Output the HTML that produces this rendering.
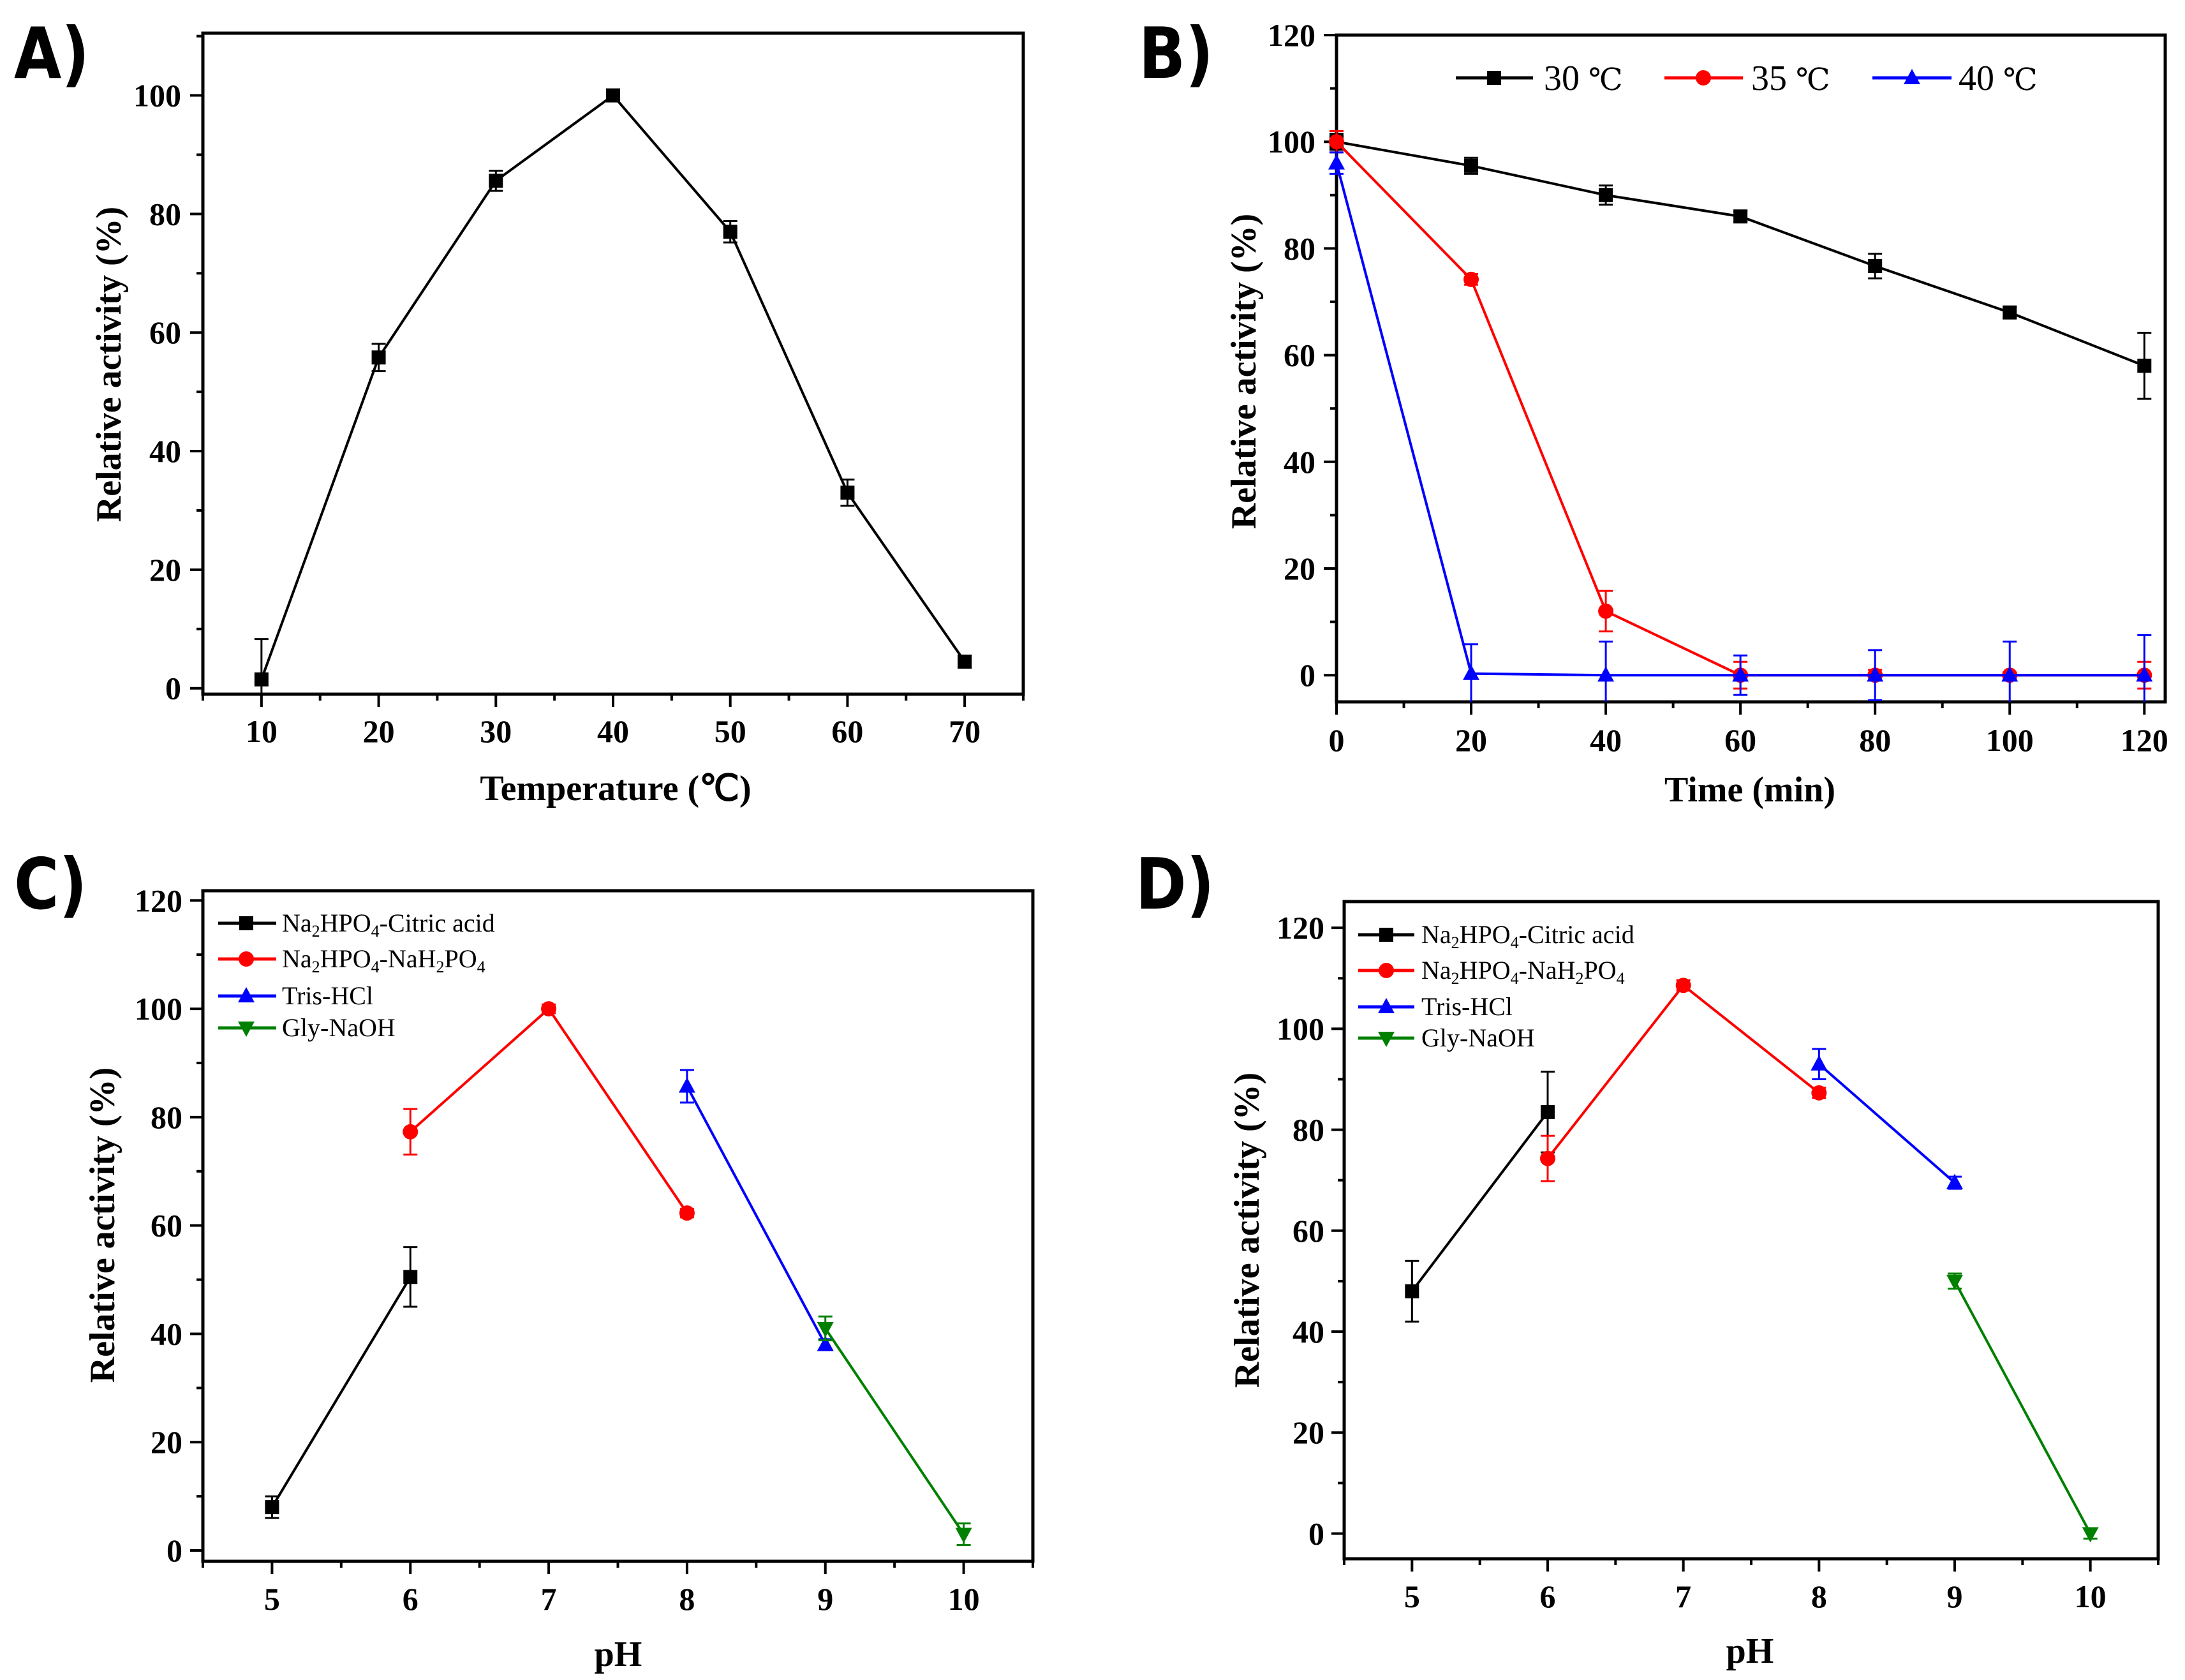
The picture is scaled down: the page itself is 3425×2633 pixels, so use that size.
<!DOCTYPE html>
<html><head><meta charset="utf-8">
<style>
html,body{margin:0;padding:0;background:#fff;}
svg{display:block;}
.tick{font-family:"Liberation Serif",serif;font-weight:bold;font-size:50px;}
.title{font-family:"Liberation Serif",serif;font-weight:bold;font-size:56px;}
.leg{font-family:"Liberation Serif",serif;font-size:40px;}
.legB{font-family:"Liberation Serif",serif;font-size:56px;}
.letter{font-family:"DejaVu Sans","Liberation Sans",sans-serif;font-weight:bold;font-size:96px;}
</style></head>
<body>
<svg id="fig" xmlns="http://www.w3.org/2000/svg" width="3425" height="2633" viewBox="0 0 3425 2633">
<rect width="3425" height="2633" fill="#fff"/>
</svg>
<script>
// Panel A: temperature optimum
const tempA = [10,20,30,40,50,60,70];
const actA = [1.5,55.8,85.6,100,77,33,4.5];
const errA = [6.8,2.3,1.7,1,1.8,2.2,1];
// Panel B: thermostability
const timeB = [0,20,40,60,80,100,120];
const actB30 = [100,95.5,90,86,76.7,68,58];
const errB30 = [1.5,1.5,1.8,1,2.3,1,6.2];
const actB35 = [100,74.2,12,0,0,0,0];
const errB35 = [2,1,3.8,2.5,1,0.5,2.5];
const actB40 = [96,0.3,0,0,0,0,0];
const errB40 = [2,5.5,6.3,3.7,4.7,6.3,7.5];
// Panel C: pH optimum
const phC1 = [5,6], actC1 = [8,50.5], errC1 = [2,5.5];
const phC2 = [6,7,8], actC2 = [77.3,100,62.3], errC2 = [4.2,0.8,0.8];
const phC3 = [8,9], actC3 = [85.7,38], errC3 = [3,1];
const phC4 = [9,10], actC4 = [41,3], errC4 = [2.2,2];
// Panel D: pH stability
const phD1 = [5,6], actD1 = [48,83.5], errD1 = [6,8];
const phD2 = [6,7,8], actD2 = [74.3,108.6,87.3], errD2 = [4.5,1,1];
const phD3 = [8,9], actD3 = [93,69.5], errD3 = [3,1.2];
const phD4 = [9,10], actD4 = [50,0], errD4 = [1.5,1];
const ticksA_x = [10,20,30,40,50,60,70], ticksA_y = [0,20,40,60,80,100];
const ticksB_x = [0,20,40,60,80,100,120], ticksB_y = [0,20,40,60,80,100,120];
const ticksC_x = [5,6,7,8,9,10], ticksC_y = [0,20,40,60,80,100,120];
const legendC = ["Na<tspan dy='8' font-size='26'>2</tspan><tspan dy='-8'>HPO</tspan><tspan dy='8' font-size='26'>4</tspan><tspan dy='-8'>-Citric acid</tspan>",
 "Na<tspan dy='8' font-size='26'>2</tspan><tspan dy='-8'>HPO</tspan><tspan dy='8' font-size='26'>4</tspan><tspan dy='-8'>-NaH</tspan><tspan dy='8' font-size='26'>2</tspan><tspan dy='-8'>PO</tspan><tspan dy='8' font-size='26'>4</tspan>",
 "Tris-HCl","Gly-NaOH"];
const legendB = ["30 <tspan font-family='DejaVu Serif,Liberation Serif,serif' font-size='48'>℃</tspan>","35 <tspan font-family='DejaVu Serif,Liberation Serif,serif' font-size='48'>℃</tspan>","40 <tspan font-family='DejaVu Serif,Liberation Serif,serif' font-size='48'>℃</tspan>"];

const NS="http://www.w3.org/2000/svg";
const svg=document.getElementById('fig');
function mk(tag,attrs,parent){const e=document.createElementNS(NS,tag);for(const k in attrs)e.setAttribute(k,attrs[k]);(parent||svg).appendChild(e);return e;}

function makeAxes(p){
  const g=mk('g',{});
  
  
  p.g=g;
  p.sx=v=>p.L+(v-p.xmin)/(p.xmax-p.xmin)*(p.R-p.L);
  p.sy=v=>p.B-(v-p.ymin)/(p.ymax-p.ymin)*(p.B-p.T);
  const fr=mk('rect',{x:p.L,y:p.T,width:p.R-p.L,height:p.B-p.T,fill:'none',stroke:'#000','stroke-width':5},g);
  
  
  for(let v=p.ymin;v<=p.ymax+1e-9;v+=1){
    if(Math.abs(v%10)>1e-9) continue;
    const major=Math.abs(v%20)<1e-9 && v<=p.ymajMax;
    const y=p.sy(v);
    mk('line',{x1:p.L,x2:p.L-(major?20:10),y1:y,y2:y,stroke:'#000','stroke-width':4},g);
  }
  p.yt.forEach(v=>{
    const t=mk('text',{x:p.ylabX,y:p.sy(v)+17,'text-anchor':'end',class:'tick'},g);
    t.textContent=v;
    
    
  });
  for(let v=p.xminor0;v<=p.xmax+1e-9;v+=p.xminorStep){
    const major=p.xt.some(t=>Math.abs(t-v)<1e-9);
    const x=p.sx(v);
    mk('line',{x1:x,x2:x,y1:p.B,y2:p.B+(major?20:10),stroke:'#000','stroke-width':4},g);
  }
  p.xt.forEach(v=>{
    const t=mk('text',{x:p.sx(v),y:p.xlabY+17,'text-anchor':'middle',class:'tick'},g);
    t.textContent=v;
    
    
  });
  const xt=mk('text',{x:p.xtitle[0],y:p.xtitle[1]+20,'text-anchor':'middle',class:'title'},g);
  xt.textContent=p.xlabel;
  
  
  const yt=mk('text',{x:0,y:0,'text-anchor':'middle',class:'title',transform:`translate(${p.ytitle[0]+20},${p.ytitle[1]}) rotate(-90)`},g);
  yt.textContent='Relative activity (%)';
  
  
  const lt=mk('text',{x:p.letter[0],y:p.letter[1],class:'letter',transform:`translate(${p.letter[0]},${p.letter[1]}) scale(1,1.15) translate(${-p.letter[0]},${-p.letter[1]})`},g);
  lt.textContent=p.letterText;
  
  
  return p;
}
function marker(g,shape,x,y,color){
  let m;
  if(shape==='sq') m=mk('rect',{x:x-11,y:y-11,width:22,height:22,fill:color},g);
  else if(shape==='ci') m=mk('circle',{cx:x,cy:y,r:12,fill:color},g);
  else if(shape==='up') m=mk('polygon',{points:`${x},${y-14} ${x+13},${y+10} ${x-13},${y+10}`,fill:color},g);
  else m=mk('polygon',{points:`${x},${y+14} ${x+13},${y-10} ${x-13},${y-10}`,fill:color},g);
  return m;
}
function series(p,xs,ys,es,color,shape,name){
  const g=mk('g',{},p.g);
  
  
  const pts=xs.map((x,i)=>p.sx(x)+','+p.sy(ys[i])).join(' ');
  const pl=mk('polyline',{points:pts,fill:'none',stroke:color,'stroke-width':4},g);
  
  
  xs.forEach((x,i)=>{
    const cx=p.sx(x),y1=p.sy(ys[i]+es[i]),y2=Math.min(p.sy(ys[i]-es[i]),p.B);
    mk('line',{x1:cx,x2:cx,y1:y1,y2:y2,stroke:color,'stroke-width':3},g);
    mk('line',{x1:cx-11,x2:cx+11,y1:y1,y2:y1,stroke:color,'stroke-width':3},g);
    if(p.sy(ys[i]-es[i])<p.B) mk('line',{x1:cx-11,x2:cx+11,y1:y2,y2:y2,stroke:color,'stroke-width':3},g);
    const m=marker(g,shape,cx,p.sy(ys[i]),color);
    
    
  });
}
function legend(p,items,x0,x1,xm,xt,ys,cls){
  items.forEach((it,i)=>{
    const g=mk('g',{},p.g);
    
    
    const y=ys[i];
    mk('line',{x1:x0[i],x2:x1[i],y1:y,y2:y,stroke:it.c,'stroke-width':5},g);
    marker(g,it.s,xm[i],y,it.c);
    const t=mk('text',{x:xt[i],y:y+(cls==='legB'?19:13),class:cls},g);
    t.innerHTML=it.t;
  });
}

// Panel A
const A=makeAxes({name:'panel-a-temperature',L:318,R:1604,T:52,B:1088,xmin:5,xmax:75,ymin:-1,ymax:110.5,ymajMax:100,
  xt:ticksA_x,yt:ticksA_y,xminor0:5,xminorStep:5,ylabX:284,xlabY:1146,xtitle:[965,1234],ytitle:[169,571],
  xlabel:'Temperature (℃)',letter:[22,122],letterText:'A)'});
series(A,tempA,actA,errA,'#000','sq','series-temperature');

// Panel B
const Bp=makeAxes({name:'panel-b-thermostability',L:2095,R:3394,T:55,B:1100,xmin:0,xmax:123.1,ymin:-5,ymax:120,ymajMax:120,
  xt:ticksB_x,yt:ticksB_y,xminor0:0,xminorStep:10,ylabX:2062,xlabY:1160,xtitle:[2743,1236],ytitle:[1948,582],
  xlabel:'Time (min)',letter:[1785,122],letterText:'B)'});
series(Bp,timeB,actB30,errB30,'#000','sq','series-30C');
series(Bp,timeB,actB35,errB35,'#f00','ci','series-35C');
series(Bp,timeB,actB40,errB40,'#00f','up','series-40C');
legend(Bp,[{c:'#000',s:'sq',t:legendB[0]},{c:'#f00',s:'ci',t:legendB[1]},{c:'#00f',s:'up',t:legendB[2]}],
  [2282,2609,2935],[2403,2732,3059],[2342,2670,2997],[2420,2745,3070],[122,122,122],'legB');

// Panel C
const Cp=makeAxes({name:'panel-c-ph-optimum',L:318,R:1619,T:1396,B:2447,xmin:4.5,xmax:10.5,ymin:-2,ymax:121.8,ymajMax:120,
  xt:ticksC_x,yt:ticksC_y,xminor0:4.5,xminorStep:0.5,ylabX:286,xlabY:2506,xtitle:[969,2591],ytitle:[159,1920],
  xlabel:'pH',letter:[22,1424],letterText:'C)'});
series(Cp,phC1,actC1,errC1,'#000','sq','series-citric');
series(Cp,phC2,actC2,errC2,'#f00','ci','series-phosphate');
series(Cp,phC3,actC3,errC3,'#00f','up','series-tris');
series(Cp,phC4,actC4,errC4,'#008000','dn','series-gly');
const legItems=[{c:'#000',s:'sq',t:legendC[0]},{c:'#f00',s:'ci',t:legendC[1]},{c:'#00f',s:'up',t:legendC[2]},{c:'#008000',s:'dn',t:legendC[3]}];
legend(Cp,legItems,[342,342,342,342],[433,433,433,433],[386,386,386,386],[442,442,442,442],[1447,1503,1561,1611],'leg');

// Panel D
const Dp=makeAxes({name:'panel-d-ph-stability',L:2107,R:3383,T:1413,B:2443,xmin:4.5,xmax:10.5,ymin:-5,ymax:125.2,ymajMax:120,
  xt:ticksC_x,yt:ticksC_y,xminor0:4.5,xminorStep:0.5,ylabX:2076,xlabY:2502,xtitle:[2743,2586],ytitle:[1953,1928],
  xlabel:'pH',letter:[1780,1424],letterText:'D)'});
series(Dp,phD1,actD1,errD1,'#000','sq','series-citric');
series(Dp,phD2,actD2,errD2,'#f00','ci','series-phosphate');
series(Dp,phD3,actD3,errD3,'#00f','up','series-tris');
series(Dp,phD4,actD4,errD4,'#008000','dn','series-gly');
legend(Dp,legItems,[2129,2129,2129,2129],[2217,2217,2217,2217],[2173,2173,2173,2173],[2228,2228,2228,2228],[1465,1521,1578,1627],'leg');
</script>
</body></html>
